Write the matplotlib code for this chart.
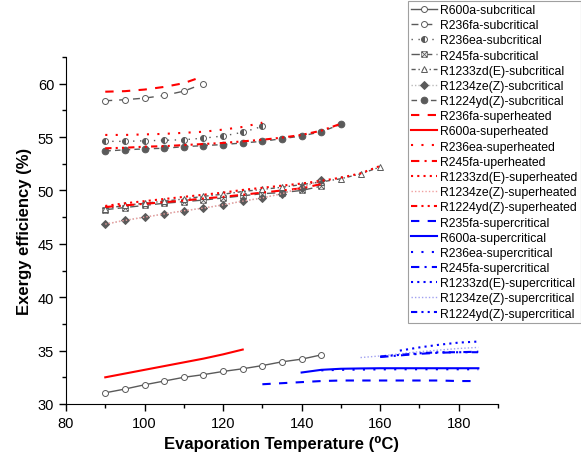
import matplotlib
matplotlib.use("Agg")
import matplotlib.pyplot as plt
import numpy as np
from matplotlib.ticker import MultipleLocator
from matplotlib.path import Path

plt.rcParams['font.family'] = ['Liberation Sans', 'DejaVu Sans']

# ---------------- data ----------------
T_600a_sub = [90, 95, 100, 105, 110, 115, 120, 125, 130, 135, 140, 145]
R600a_sub = [31.05, 31.4, 31.8, 32.15, 32.5, 32.75, 33.05, 33.3, 33.6, 33.95, 34.2, 34.6]
T_236fa_sub = [90, 95, 100, 105, 110, 115]
R236fa_sub = [58.4, 58.5, 58.65, 58.9, 59.3, 60.0]
T_236ea_sub = [90, 95, 100, 105, 110, 115, 120, 125, 130]
R236ea_sub = [54.6, 54.6, 54.65, 54.7, 54.75, 54.9, 55.1, 55.45, 56.0]
T_245fa_sub = [90, 95, 100, 105, 110, 115, 120, 125, 130, 135, 140, 145]
R245fa_sub = [48.2, 48.4, 48.6, 48.8, 48.95, 49.1, 49.3, 49.5, 49.7, 49.8, 50.0, 50.4]
T_1233zd_sub = [90, 95, 100, 105, 110, 115, 120, 125, 130, 135, 140, 145, 150, 155, 160]
R1233zd_sub = [48.3, 48.6, 48.8, 49.0, 49.2, 49.45, 49.65, 49.9, 50.1, 50.3, 50.55, 50.8, 51.1, 51.55, 52.2]
T_1234ze_sub = [90, 95, 100, 105, 110, 115, 120, 125, 130, 135, 140, 145]
R1234ze_sub = [46.85, 47.2, 47.5, 47.8, 48.1, 48.35, 48.65, 49.0, 49.3, 49.7, 50.25, 51.0]
T_1224yd_sub = [90, 95, 100, 105, 110, 115, 120, 125, 130, 135, 140, 145, 150]
R1224yd_sub = [53.7, 53.8, 53.9, 53.95, 54.1, 54.2, 54.3, 54.45, 54.6, 54.85, 55.1, 55.5, 56.2]

T_236fa_sh = [90, 95, 100, 105, 110, 115]
R236fa_sh = [59.25, 59.3, 59.45, 59.7, 60.05, 60.7]
T_600a_sh = [90, 95, 100, 105, 110, 115, 120, 125]
R600a_sh = [32.5, 32.85, 33.2, 33.55, 33.9, 34.25, 34.65, 35.1]
T_236ea_sh = [90, 95, 100, 105, 110, 115, 120, 125, 130]
R236ea_sh = [55.2, 55.2, 55.25, 55.3, 55.4, 55.5, 55.7, 55.95, 56.35]
T_245fa_sh = [90, 95, 100, 105, 110, 115, 120, 125, 130, 135, 140, 145]
R245fa_sh = [48.45, 48.6, 48.75, 48.9, 49.05, 49.25, 49.4, 49.6, 49.8, 50.0, 50.2, 50.6]
T_1233zd_sh = [90, 95, 100, 105, 110, 115, 120, 125, 130, 135, 140, 145, 150, 155, 160]
R1233zd_sh = [48.55, 48.8, 49.0, 49.2, 49.4, 49.6, 49.8, 50.05, 50.25, 50.45, 50.65, 50.9, 51.2, 51.6, 52.3]
T_1234ze_sh = [90, 95, 100, 105, 110, 115, 120, 125, 130, 135, 140, 145]
R1234ze_sh = [46.85, 47.2, 47.5, 47.8, 48.1, 48.35, 48.65, 49.0, 49.3, 49.7, 50.25, 51.0]
T_1224yd_sh = [90, 95, 100, 105, 110, 115, 120, 125, 130, 135, 140, 145, 150]
R1224yd_sh = [53.95, 54.0, 54.1, 54.15, 54.25, 54.35, 54.45, 54.6, 54.75, 54.95, 55.2, 55.6, 56.25]

T_236fa_sc = [130, 135, 140, 145, 150, 155, 160, 165, 170, 175, 180, 185]
R236fa_sc = [31.85, 31.95, 32.05, 32.15, 32.2, 32.2, 32.2, 32.2, 32.2, 32.2, 32.15, 32.15]
T_600a_sc = [140, 145, 150, 155, 160, 165, 170, 175, 180, 185]
R600a_sc = [32.95, 33.2, 33.3, 33.33, 33.35, 33.35, 33.35, 33.35, 33.35, 33.35]
T_236ea_sc = [145, 150, 155, 160, 165, 170, 175, 180, 185]
R236ea_sc = [33.15, 33.2, 33.22, 33.24, 33.25, 33.25, 33.25, 33.25, 33.25]
T_245fa_sc = [160, 165, 170, 175, 180, 185]
R245fa_sc = [34.4, 34.55, 34.7, 34.8, 34.85, 34.9]
T_1233zd_sc = [165, 170, 175, 180, 185]
R1233zd_sc = [35.0, 35.3, 35.55, 35.75, 35.85]
T_1234ze_sc = [155, 160, 165, 170, 175, 180, 185]
R1234ze_sc = [34.35, 34.5, 34.7, 34.9, 35.05, 35.2, 35.3]
T_1224yd_sc = [160, 165, 170, 175, 180, 185]
R1224yd_sc = [34.45, 34.6, 34.75, 34.85, 34.85, 34.85]

# ---------------- plot ----------------
fig = plt.figure(figsize=(5.81, 4.64), dpi=100)
ax = fig.add_axes([66/581, 59/464, (498-66)/581, (405-58)/464])

boxx = Path([(-1, -1), (1, -1), (1, 1), (-1, 1), (-1, -1), (-1, -1), (1, 1), (-1, 1), (1, -1)],
            [Path.MOVETO, Path.LINETO, Path.LINETO, Path.LINETO, Path.CLOSEPOLY,
             Path.MOVETO, Path.LINETO, Path.MOVETO, Path.LINETO])

g = '#5a5a5a'
mk = dict(markersize=4.3, markeredgewidth=0.7)
ax.plot(T_600a_sub, R600a_sub, color=g, lw=1, ls='-', marker='o', mfc='white', mec=g, label='R600a-subcritical', **mk)
ax.plot(T_236fa_sub, R236fa_sub, color=g, lw=1, ls=(0, (5, 5)), marker='o', mfc='white', mec=g, label='R236fa-subcritical', **mk)
ax.plot(T_236ea_sub, R236ea_sub, color=g, lw=1, ls=(0, (1, 4)), marker='o', fillstyle='left', mfc=g, mfcalt='white', mec=g, label='R236ea-subcritical', **mk)
ax.plot(T_245fa_sub, R245fa_sub, color=g, lw=1, ls=(0, (6, 3)), marker=boxx, mfc='white', mec=g, markersize=4, markeredgewidth=0.6, label='R245fa-subcritical')
ax.plot(T_1233zd_sub, R1233zd_sub, color=g, lw=1, ls=(0, (3, 2, 1, 2)), marker='^', mfc='white', mec=g, label='R1233zd(E)-subcritical', **mk)
ax.plot(T_1234ze_sub, R1234ze_sub, color='#bbbbbb', lw=1, ls=(0, (1, 1.5)), marker='D', mfc=g, mec=g, label='R1234ze(Z)-subcritical', markersize=4, markeredgewidth=0.7)
ax.plot(T_1224yd_sub, R1224yd_sub, color=g, lw=1, ls=(0, (4, 3)), marker='o', mfc=g, mec=g, label='R1224yd(Z)-subcritical', markersize=4.8, markeredgewidth=0.7)

r = '#ff0000'
ax.plot(T_236fa_sh, R236fa_sh, color=r, lw=1.5, ls=(0, (4, 4)), label='R236fa-superheated')
ax.plot(T_600a_sh, R600a_sh, color=r, lw=1.5, ls='-', label='R600a-superheated')
ax.plot(T_236ea_sh, R236ea_sh, color=r, lw=1.5, ls=(0, (1, 4)), label='R236ea-superheated')
ax.plot(T_245fa_sh, R245fa_sh, color=r, lw=1.5, ls=(0, (4, 2.5, 1, 2.5)), label='R245fa-uperheated')
ax.plot(T_1233zd_sh, R1233zd_sh, color=r, lw=1.5, ls=(0, (1, 2)), label='R1233zd(E)-superheated')
ax.plot(T_1234ze_sh, R1234ze_sh, color='#f0a0a0', lw=1, ls=(0, (1, 1.5)), label='R1234ze(Z)-superheated')
ax.plot(T_1224yd_sh, R1224yd_sh, color=r, lw=1.5, ls=(0, (3, 2, 1, 2, 1, 2)), label='R1224yd(Z)-superheated')

b = '#0000ff'
ax.plot(T_236fa_sc, R236fa_sc, color=b, lw=1.5, ls=(0, (4, 4)), label='R235fa-supercritical')
ax.plot(T_600a_sc, R600a_sc, color=b, lw=1.5, ls='-', label='R600a-supercritical')
ax.plot(T_236ea_sc, R236ea_sc, color=b, lw=1.5, ls=(0, (1, 4)), label='R236ea-supercritical')
ax.plot(T_245fa_sc, R245fa_sc, color=b, lw=1.5, ls=(0, (4, 2.5, 1, 2.5)), label='R245fa-supercritical')
ax.plot(T_1233zd_sc, R1233zd_sc, color=b, lw=1.5, ls=(0, (1, 2)), label='R1233zd(E)-supercritical')
ax.plot(T_1234ze_sc, R1234ze_sc, color='#a0a0f0', lw=1, ls=(0, (1, 1.5)), label='R1234ze(Z)-supercritical')
ax.plot(T_1224yd_sc, R1224yd_sc, color=b, lw=1.5, ls=(0, (3, 2, 1, 2, 1, 2)), label='R1224yd(Z)-supercritical')

ax.set_xlim(80, 190)
ax.set_ylim(30, 62.5)
ax.xaxis.set_major_locator(MultipleLocator(20))
ax.xaxis.set_minor_locator(MultipleLocator(10))
ax.yaxis.set_major_locator(MultipleLocator(5))
ax.yaxis.set_minor_locator(MultipleLocator(2.5))
ax.spines['top'].set_visible(False)
ax.spines['right'].set_visible(False)
ax.tick_params(which='both', direction='out', width=1, labelsize=10.5)
ax.tick_params(which='major', length=5)
ax.tick_params(which='minor', length=3)
ax.set_xlabel('Evaporation Temperature (⁰C)', fontsize=12, fontweight='bold')
ax.set_ylabel('Exergy efficiency (%)', fontsize=12, fontweight='bold')

leg = fig.legend(loc='upper left', bbox_to_anchor=(408/581, 1 - 2/464), fontsize=8.8,
                 numpoints=1, handlelength=2.1, handletextpad=0.3, labelspacing=0.26,
                 borderpad=0.25, borderaxespad=0, frameon=True, fancybox=False)
leg.get_frame().set_edgecolor('#888888')
leg.get_frame().set_linewidth(0.8)

fig.savefig('out.png', dpi=100)
